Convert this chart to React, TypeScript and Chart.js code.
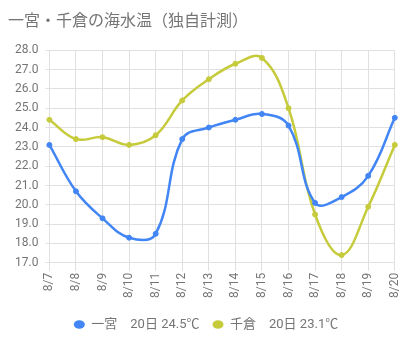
import React, { useEffect, useRef } from "react";
import { Chart, registerables } from "chart.js";

Chart.register(...registerables);

const categories = ["8/7", "8/8", "8/9", "8/10", "8/11", "8/12", "8/13", "8/14", "8/15", "8/16", "8/17", "8/18", "8/19", "8/20"];
const ichinomiya = [23.1, 20.7, 19.3, 18.3, 18.5, 23.4, 24.0, 24.4, 24.7, 24.1, 20.1, 20.4, 21.5, 24.5];
const chikura = [24.4, 23.4, 23.5, 23.1, 23.6, 25.4, 26.5, 27.3, 27.6, 25.0, 19.5, 17.4, 19.9, 23.1];
const seriesLabels = ["一宮　20日 24.5℃", "千倉　20日 23.1℃"];
const titleText = "一宮・千倉の海水温（独自計測）";

const FONT = "Roboto, 'Noto Sans CJK JP', sans-serif";

export default function App() {
  const ref = useRef<HTMLCanvasElement>(null);
  useEffect(() => {
    if (!ref.current) return;
    const chart = new Chart(ref.current, {
      type: "line",
      data: {
        labels: categories,
        datasets: [
          {
            label: seriesLabels[0],
            data: ichinomiya,
            borderColor: "#4285F4",
            backgroundColor: "#4285F4",
            borderWidth: 2.5,
            pointRadius: 2.5,
            pointBorderWidth: 1,
            tension: 0.4,
          },
          {
            label: seriesLabels[1],
            data: chikura,
            borderColor: "#C6CB3C",
            backgroundColor: "#C6CB3C",
            borderWidth: 2.5,
            pointRadius: 2.5,
            pointBorderWidth: 1,
            tension: 0.4,
          },
        ],
      },
      options: {
        animation: false,
        responsive: true,
        maintainAspectRatio: false,
        layout: { autoPadding: false, padding: { left: 0, right: 6, top: 4, bottom: 7 } },
        plugins: {
          title: {
            display: true,
            text: titleText,
            align: "start",
            color: "#757575",
            font: { family: FONT, size: 16, weight: "normal" },
            padding: { top: 0, bottom: 19 },
          },
          legend: {
            position: "bottom",
            labels: {
              usePointStyle: true,
              pointStyle: "circle",
              boxWidth: 6,
              boxHeight: 6,
              pointStyleWidth: 11,
              color: "#757575",
              font: { family: FONT, size: 13 },
              padding: 13,
              generateLabels: (c: any) => {
                const items = Chart.defaults.plugins.legend.labels.generateLabels(c);
                items.forEach((it: any) => {
                  it.lineWidth = 0;
                  it.strokeStyle = "transparent";
                });
                return items;
              },
            },
          },
          tooltip: { enabled: false },
        },
        scales: {
          x: {
            grid: { color: "#e0e0e0", tickLength: 8 },
            border: { color: "#e0e0e0" },
            afterFit: (s: any) => {
              s.height += 5;
            },
            ticks: {
              color: "#757575",
              font: { family: FONT, size: 12, lineHeight: 1.1 },
              maxRotation: 90,
              minRotation: 90,
              autoSkip: false,
              padding: 2,
            },
          },
          y: {
            min: 17,
            max: 28,
            grid: { color: "#e0e0e0", tickLength: 4 },
            border: { color: "#e0e0e0" },
            ticks: {
              stepSize: 1,
              color: "#757575",
              font: { family: FONT, size: 12 },
              padding: 7,
              callback: (v: any) => Number(v).toFixed(1),
            },
          },
        },
      },
    });
    return () => chart.destroy();
  }, []);
  return (
    <div style={{ width: 402, height: 340 }}>
      <canvas ref={ref} />
    </div>
  );
}
